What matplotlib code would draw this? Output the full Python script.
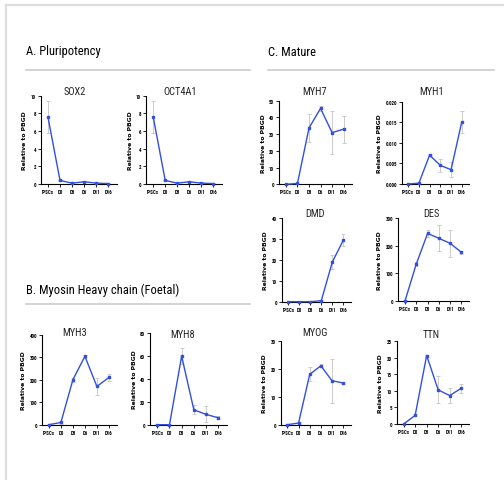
import matplotlib
matplotlib.use("Agg")
import matplotlib.pyplot as plt
from matplotlib.lines import Line2D

plt.rcParams['font.family'] = ['Roboto Condensed', 'Liberation Sans Narrow', 'Roboto', 'DejaVu Sans']

# ---------------- data ----------------
days = ["iPSCs", "D0", "D3", "D6", "D11", "D16"]

sox2 = [7.6, 0.4, 0.1, 0.25, 0.1, 0.05]
sox2_err = [1.85, 0.05, 0.03, 0.05, 0.03, 0.02]
oct4a1 = [7.6, 0.4, 0.1, 0.25, 0.1, 0.05]
oct4a1_err = [1.85, 0.05, 0.03, 0.05, 0.03, 0.02]

myh3 = [0, 10, 200, 304, 170, 210]
myh3_err = [2, 5, 8, 8, 37, 14]
myh8 = [0, 0, 60.0, 13.1, 9.0, 6.1]
myh8_err = [0.3, 0.3, 7.2, 4.1, 7.0, 1.5]

myh7 = [0, 0.5, 33.7, 45.4, 30.9, 33.0]
myh7_err = [0.2, 0.3, 8.5, 1.5, 13.0, 8.0]
myh1 = [0, 0.0002, 0.0070, 0.00453, 0.00348, 0.0151]
myh1_err = [0, 0.0001, 0.0003, 0.0015, 0.0019, 0.0027]
dmd = [0, 0, 0, 0.5, 19.0, 29.5]
dmd_err = [0, 0, 0, 0.3, 3.3, 2.8]
des = [0, 134, 245, 227, 209, 176]
des_err = [1, 6, 14, 47, 50, 6]
myog = [0, 0.6, 18.1, 21.2, 15.8, 15.0]
myog_err = [0.1, 0.3, 2.5, 0.6, 8.0, 0.5]
ttn = [0, 2.6, 20.7, 10.3, 8.6, 10.8]
ttn_err = [0.1, 0.3, 0.3, 4.1, 2.2, 1.4]

sections = ["A. Pluripotency", "B. Myosin Heavy chain (Foetal)", "C. Mature"]

W, H = 504, 481
fig = plt.figure(figsize=(W / 100, H / 100), dpi=100)
fig.patch.set_facecolor("white")

LINE = "#3350dc"
ERR = "#c4c4c4"


def px_axes(l, r, t, b):
    return fig.add_axes([l / W, 1 - b / H, (r - l) / W, (b - t) / H])


def fig_text(x, y, s, **kw):
    fig.text(x / W, 1 - y / H, s, **kw)


def fig_line(x0, x1, y0, y1, **kw):
    fig.add_artist(Line2D([x0 / W, x1 / W], [1 - y0 / H, 1 - y1 / H],
                          transform=fig.transFigure, **kw))


def panel(box, title, title_xy, vals, errs, yticks, ylabels):
    ax = px_axes(*box)
    x = list(range(len(days)))
    ax.errorbar(x, vals, yerr=errs, fmt="none", ecolor=ERR, elinewidth=0.6,
                capsize=1.2, capthick=0.6, zorder=1, clip_on=False)
    ax.plot(x, vals, color=LINE, lw=1.0, marker="s", ms=2.0, zorder=3,
            clip_on=False)
    ax.set_xlim(-0.6, 5.7)
    ax.set_ylim(yticks[0], yticks[-1])
    ax.set_yticks(yticks)
    ax.set_yticklabels(ylabels)
    ax.set_xticks(x)
    ax.set_xticklabels(days)
    for s in ("top", "right"):
        ax.spines[s].set_visible(False)
    for s in ("left", "bottom"):
        ax.spines[s].set_linewidth(0.8)
    ax.tick_params(axis="both", length=2, width=0.6, pad=1.5,
                   labelsize=3.6)
    for lab in ax.get_xticklabels() + ax.get_yticklabels():
        lab.set_fontweight("bold")
    ax.set_ylabel("Relative to PBGD", fontsize=4.4, fontweight="bold",
                  labelpad=2.5, family=["DejaVu Sans"])
    ax.patch.set_alpha(0)
    fig_text(title_xy[0], title_xy[1], title, ha="center", va="center",
             fontsize=7.5, color="#222222")
    return ax


# border
fig_line(5.5, 5.5, 6, 481, color="#dedede", lw=1.6)
fig_line(5.5, 504, 6, 6, color="#dedede", lw=1.6)

# section headers
fig_text(26, 52, sections[0], ha="left", va="center", fontsize=9)
fig_text(268, 52, sections[2], ha="left", va="center", fontsize=9)
fig_text(26, 290, sections[1], ha="left", va="center", fontsize=9)
fig_line(26, 250, 71, 71, color="#cccccc", lw=1.2)
fig_line(268, 494, 71, 71, color="#cccccc", lw=1.2)
fig_line(26, 250, 304.5, 304.5, color="#cccccc", lw=1.2)

t10 = [0, 2, 4, 6, 8, 10]
panel((40.7, 116.7, 96.7, 185), "SOX2", (75, 92), sox2, sox2_err,
      t10, [str(v) for v in t10])
panel((146, 221.7, 96.7, 185), "OCT4A1", (180, 92), oct4a1, oct4a1_err,
      t10, [str(v) for v in t10])

t400 = [0, 100, 200, 300, 400]
panel((41.7, 117.3, 335.7, 425.7), "MYH3", (75, 333), myh3, myh3_err,
      t400, [str(v) for v in t400])
t80 = [0, 20, 40, 60, 80]
panel((150, 226.7, 334.3, 425.7), "MYH8", (183, 335), myh8, myh8_err,
      t80, [str(v) for v in t80])

t50 = [0, 10, 20, 30, 40, 50]
panel((279, 351.7, 101.7, 185.3), "MYH7", (315, 91.7), myh7, myh7_err,
      t50, [str(v) for v in t50])
t02 = [0, 0.005, 0.010, 0.015, 0.020]
panel((401.7, 469.3, 102.7, 185), "MYH1", (431.7, 91.7), myh1, myh1_err,
      t02, ["%.3f" % v for v in t02])

t40 = [0, 10, 20, 30, 40]
panel((281.7, 351, 219.3, 302.7), "DMD", (315, 214), dmd, dmd_err,
      t40, [str(v) for v in t40])
t300 = [0, 100, 200, 300]
panel((398.3, 469.3, 219.3, 301.7), "DES", (431.7, 214), des, des_err,
      t300, [str(v) for v in t300])

t30 = [0, 10, 20, 30]
panel((280.7, 351, 342.3, 425.7), "MYOG", (315, 333.3), myog, myog_err,
      t30, [str(v) for v in t30])
t25 = [0, 5, 10, 15, 20, 25]
panel((396.7, 469.3, 342.3, 425), "TTN", (431.7, 335), ttn, ttn_err,
      t25, [str(v) for v in t25])

fig.savefig("out.png", dpi=100, facecolor="white")
